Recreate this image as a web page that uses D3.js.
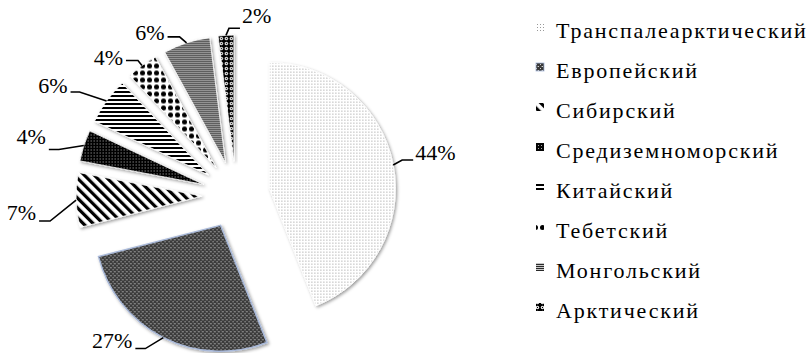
<!DOCTYPE html>
<html><head><meta charset="utf-8">
<script src="https://cdn.jsdelivr.net/npm/d3@7"></script>
<style>html,body{margin:0;padding:0;background:#fff;} svg{display:block;}</style>
</head><body>
<svg id="chart" width="810" height="353"></svg>
<script>
// ---- data ----
const categories = ["Транспалеарктический","Европейский","Сибирский","Средиземноморский","Китайский","Тебетский","Монгольский","Арктический"];
const values = [44, 27, 7, 4, 6, 4, 6, 2];
const labels = ["44%","27%","7%","4%","6%","4%","6%","2%"];

// ---- layout (not data) ----
const cx = 236, cy = 195, R = 126, explode = 34;
const FONT = '"Liberation Serif"';
// leader layout per slice: [elbowDx, elbowDy, segLen, textDy]
const leaderLayout = [
  [9,-5,11,0],[-18,11,-10,-1],[-26,21,-11,-1],[-25,4,-10,-6],
  [-27,-9,-9,1],[-4,-5,-12,4],[-7,-6,-12,3],[3,-7,11,-5]
];
const patternIds = ["pTrans","pEuro","pSib","pMed","pChi","pTib","pMon","pArc"];

const svg = d3.select("#chart");
const defs = svg.append("defs");

function pat(id, w, h, build, transform){
  const p = defs.append("pattern").attr("id", id).attr("patternUnits","userSpaceOnUse")
    .attr("width", w).attr("height", h);
  if (transform) p.attr("patternTransform", transform);
  build(p);
}
pat("pTrans",3,3,p=>{
  p.append("rect").attr("width",3).attr("height",3).attr("fill","#fff");
  p.append("rect").attr("x",0).attr("y",0).attr("width",1).attr("height",1).attr("fill","#999");
});
pat("pEuro",4,4,p=>{
  p.append("rect").attr("width",4).attr("height",4).attr("fill","#3a3a3a");
  p.append("rect").attr("x",0).attr("y",0).attr("width",1).attr("height",1).attr("fill","#d0d0d0");
  p.append("rect").attr("x",2).attr("y",2).attr("width",1).attr("height",1).attr("fill","#d0d0d0");
  p.append("rect").attr("x",1).attr("y",2).attr("width",1).attr("height",1).attr("fill","#777");
});
pat("pSib",7,7,p=>{
  p.append("rect").attr("width",7).attr("height",7).attr("fill","#fff");
  p.append("rect").attr("x",0).attr("y",0).attr("width",3.2).attr("height",7).attr("fill","#000");
},"rotate(-45)");
pat("pMed",3,3,p=>{
  p.append("rect").attr("width",3).attr("height",3).attr("fill","#050505");
  p.append("rect").attr("x",1).attr("y",1).attr("width",1).attr("height",1).attr("fill","#aaa");
});
pat("pChi",4,4,p=>{
  p.append("rect").attr("width",4).attr("height",4).attr("fill","#fff");
  p.append("rect").attr("x",0).attr("y",0).attr("width",4).attr("height",2).attr("fill","#000");
});
pat("pTib",7,7,p=>{
  p.append("rect").attr("width",7).attr("height",7).attr("fill","#fff");
  p.append("circle").attr("cx",3.5).attr("cy",3.5).attr("r",2.5).attr("fill","#000");
});
pat("pMon",2,2,p=>{
  p.append("rect").attr("width",2).attr("height",2).attr("fill","#c8c8c8");
  p.append("rect").attr("x",0).attr("y",0).attr("width",2).attr("height",1).attr("fill","#2a2a2a");
});
pat("pArc",5,5,p=>{
  p.append("rect").attr("width",5).attr("height",5).attr("fill","#000");
  p.append("circle").attr("cx",2.5).attr("cy",2.5).attr("r",1.7).attr("fill","#fff");
  p.append("circle").attr("cx",2.5).attr("cy",2.5).attr("r",0.7).attr("fill","#000");
});

const flt = defs.append("filter").attr("id","shadow").attr("x","-20%").attr("y","-20%").attr("width","140%").attr("height","140%");
flt.append("feDropShadow").attr("dx",1.5).attr("dy",1.5).attr("stdDeviation",1.8)
  .attr("flood-color","#000").attr("flood-opacity",0.38);

const pie = d3.pie().sort(null).value(d=>d).startAngle(0).endAngle(2*Math.PI);
const arcs = pie(values);
const arcGen = d3.arc().innerRadius(0).outerRadius(R);
const edgeGen = d3.arc().innerRadius(R).outerRadius(R);

const gPie = svg.append("g").attr("transform",`translate(${cx},${cy})`);

function offsetOf(a){
  const m = (a.startAngle + a.endAngle)/2;
  return [Math.sin(m)*explode, -Math.cos(m)*explode];
}

gPie.selectAll("path.slice").data(arcs).join("path")
  .attr("class","slice")
  .attr("d", arcGen)
  .attr("transform", d=>{const o=offsetOf(d); return `translate(${o[0]},${o[1]})`;})
  .attr("fill", (d,i)=>`url(#${patternIds[i]})`)
  .attr("stroke", (d,i)=> i===1 ? "#a9b9d9" : "#fff")
  .attr("stroke-width", (d,i)=> i===1 ? 1.5 : 0.8)
  .attr("filter","url(#shadow)");

// labels with leader lines
const gLab = svg.append("g");
arcs.forEach((a,i)=>{
  const o = offsetOf(a);
  const e = edgeGen.centroid(a);
  const p0 = [cx + e[0] + o[0], cy + e[1] + o[1]];
  const L = leaderLayout[i];
  const p1 = [p0[0] + L[0], p0[1] + L[1]];
  const p2 = [p1[0] + L[2], p1[1]];
  gLab.append("path")
    .attr("d", d3.line()([p0,p1,p2]))
    .attr("fill","none").attr("stroke","#000").attr("stroke-width",1.6);
  const right = L[2] > 0;
  gLab.append("text")
    .attr("x", p2[0] + (right ? 2 : -3))
    .attr("y", p2[1] + L[3])
    .attr("text-anchor", right ? "start" : "end")
    .style("font-family", FONT).style("font-size","22px")
    .attr("fill","#000")
    .text(labels[i]);
});

// legend
const legY = d3.scalePoint().domain(categories).range([38, 318]);
const gLeg = svg.append("g");
categories.forEach((c,i)=>{
  const y = legY(c);
  gLeg.append("rect").attr("x",536).attr("y",y-15).attr("width",8).attr("height",8)
    .attr("fill",`url(#${patternIds[i]})`)
    .attr("stroke", i===1 ? "#a9b9d9" : "none").attr("stroke-width",0.8);
  gLeg.append("text").attr("x",556).attr("y",y)
    .style("font-family", FONT).style("font-size","22px").style("letter-spacing","1.8px")
    .attr("fill","#000").text(c);
});
</script>
</body></html>
